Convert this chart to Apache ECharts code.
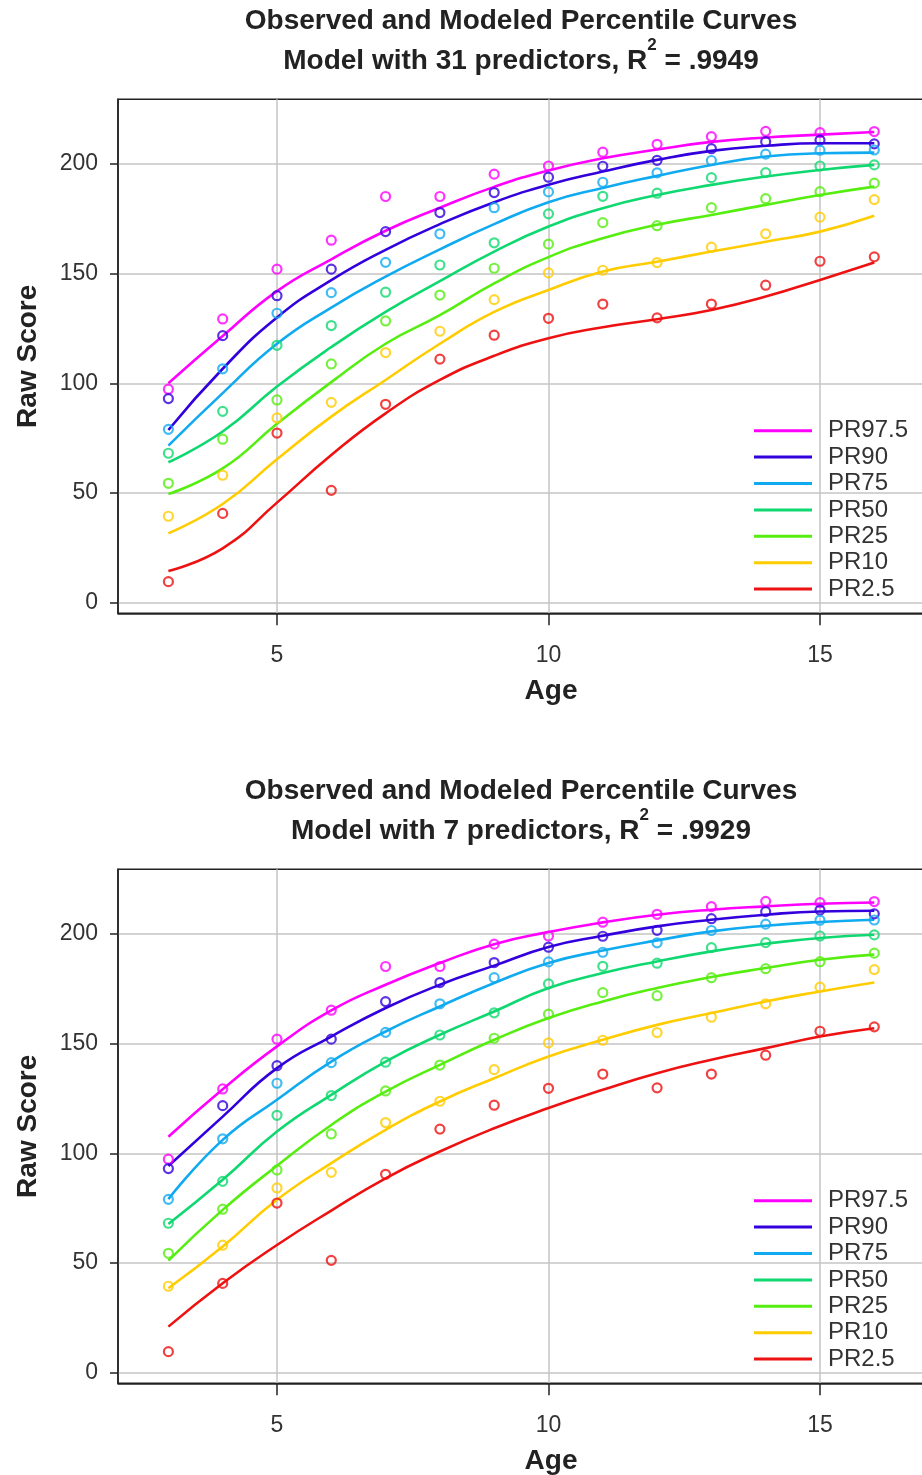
<!DOCTYPE html>
<html><head><meta charset="utf-8">
<script src="https://cdn.jsdelivr.net/npm/echarts@6/dist/echarts.min.js"></script>
<style>html,body{margin:0;padding:0;background:#fff}#c{width:922px;height:1475px}</style>
</head><body><div id="c"></div><script>
// ---- data ----
const ages = [3,4,5,6,7,8,9,10,11,12,13,14,15,16];
const names = ['PR97.5','PR90','PR75','PR50','PR25','PR10','PR2.5'];
const colors = ['#FF00FF','#3300DD','#10AAF0','#10D870','#55EE10','#FFCC00','#EE1111'];
const xTicks = [5,10,15];
const yTicks = [0,50,100,150,200];

// observed (same in both panels)
const obs975 = [97.3,129.3,152.0,165.2,185.1,185.1,195.3,199.0,205.3,208.9,212.4,214.8,214.2,214.7];
const obs90  = [93.0,121.7,139.9,152.0,169.1,177.8,186.9,193.9,198.9,201.6,206.9,210.1,210.8,209.1];
const obs75  = [79.0,106.6,131.9,141.3,155.1,168.1,180.0,187.2,191.6,195.9,201.5,204.4,206.2,206.3];
const obs50  = [68.1,87.2,117.3,126.3,141.5,153.9,164.0,177.2,185.2,186.6,193.7,196.0,199.0,199.5];
const obs25  = [54.4,74.5,92.4,108.8,128.4,140.2,152.4,163.4,173.2,171.8,180.0,184.1,187.3,191.2];
const obs10  = [39.4,58.1,84.2,91.3,114.0,123.7,138.1,150.3,151.5,155.0,162.0,168.1,175.7,183.7];
const obs2_5 = [9.6,40.7,77.3,51.2,90.4,111.0,121.9,129.6,136.1,129.8,136.1,144.7,155.6,157.6];

// model with 31 predictors
const m1_975 = [100.0,121.5,142.0,156.5,169.5,180.0,189.5,197.0,202.5,206.5,210.0,212.0,213.3,214.5];
const m1_90  = [78.7,106.6,130.0,147.0,160.8,172.5,182.5,190.5,196.5,201.8,205.9,208.2,209.4,209.4];
const m1_75  = [71.6,95.5,118.0,134.5,148.6,161.0,172.5,182.5,189.0,194.5,199.5,203.3,204.8,205.1];
const m1_50  = [64.0,78.0,98.5,116.5,132.5,146.5,160.0,171.4,179.8,185.8,190.4,194.2,197.2,199.5];
const m1_25  = [49.5,61.2,81.5,100.5,118.0,131.0,145.5,157.5,166.1,172.2,176.7,181.3,185.8,189.6];
const m1_10  = [31.6,45.0,65.4,84.8,101.5,118.0,132.5,142.5,150.9,155.4,160.0,164.5,169.1,176.3];
const m1_2_5 = [14.4,24.8,45.6,67.3,86.3,101.5,112.5,120.5,125.5,129.2,133.4,139.5,147.1,155.0];

// model with 7 predictors
const m2_975 = [107.5,129.2,148.7,165.1,176.8,186.7,195.3,200.8,205.2,208.7,211.0,212.5,213.7,214.3];
const m2_90  = [94.2,116.7,138.8,153.2,166.2,176.8,185.5,194.0,199.1,203.4,206.4,208.7,210.2,210.5];
const m2_75  = [79.1,106.1,124.4,141.8,155.5,166.9,177.6,186.7,192.4,197.0,201.1,203.7,205.4,206.4];
const m2_50  = [67.8,87.9,109.9,126.6,141.8,154.0,164.6,175.3,182.1,187.4,192.0,195.5,198.1,199.6];
const m2_25  = [51.1,74.2,94.3,112.9,128.1,140.3,151.7,161.6,169.2,175.3,180.3,184.4,188.2,190.5];
const m2_10  = [38.5,57.5,78.8,95.5,110.7,123.6,134.2,144.1,151.7,158.5,163.9,169.2,173.7,177.8];
const m2_2_5 = [21.0,40.8,58.2,73.9,88.6,100.8,111.4,120.6,128.9,136.5,142.6,147.9,153.2,157.0];

const observed = [obs975,obs90,obs75,obs50,obs25,obs10,obs2_5];
const models = [
  [m1_975,m1_90,m1_75,m1_50,m1_25,m1_10,m1_2_5],
  [m2_975,m2_90,m2_75,m2_50,m2_25,m2_10,m2_2_5]
];
const subTitles = [['Model with 31 predictors, R','2',' = .9949'],['Model with 7 predictors, R','2',' = .9929']];
const mainTitle = 'Observed and Modeled Percentile Curves';

// ---- layout ----
const F = '"Liberation Sans", Arial, Helvetica, sans-serif';
const PANEL_DY = 770;
const gridTop = 99.3, gridLeft = 118, gridW = 866, gridH = 514;
const xMin = 2.072, xMax = 2.072 + 866 / 54.3, yMin = -4.83, yMax = 229.4;

const grids = [], xAxes = [], yAxes = [], series = [], legends = [], graphics = [];
for (let p = 0; p < 2; p++) {
  const off = p * PANEL_DY;
  grids.push({left: gridLeft, top: gridTop + off, width: gridW, height: gridH,
    show: true, borderColor: '#222', borderWidth: 1.5, backgroundColor: 'transparent',
    outerBoundsMode: 'none', containLabel: false});
  xAxes.push({type: 'value', gridIndex: p, min: xMin, max: xMax,
    axisLine: {show: true, onZero: false, lineStyle: {color: '#222', width: 1.5}},
    axisTick: {show: true, length: 12, customValues: xTicks, lineStyle: {color: '#222', width: 1.5}},
    axisLabel: {customValues: xTicks, fontSize: 23, color: '#333', margin: 31, fontFamily: F},
    splitLine: {show: true, lineStyle: {color: '#C4C4C4', width: 1.5}},
    name: 'Age', nameLocation: 'middle', nameGap: 64,
    nameTextStyle: {fontSize: 28, fontWeight: 'bold', color: '#222', fontFamily: F}});
  yAxes.push({type: 'value', gridIndex: p, min: yMin, max: yMax,
    axisLine: {show: true, onZero: false, lineStyle: {color: '#222', width: 1.5}},
    axisTick: {show: true, length: 8, customValues: yTicks, lineStyle: {color: '#222', width: 1.5}},
    axisLabel: {customValues: yTicks, fontSize: 23, color: '#333', margin: 20, fontFamily: F},
    splitLine: {show: true, lineStyle: {color: '#C4C4C4', width: 1.5}},
    name: 'Raw Score', nameLocation: 'middle', nameGap: 76,
    nameTextStyle: {fontSize: 28, fontWeight: 'bold', color: '#222', fontFamily: F}});
  for (let k = 0; k < 7; k++) {
    series.push({type: 'line', name: names[k], xAxisIndex: p, yAxisIndex: p,
      data: ages.map((a, i) => [a, models[p][k][i]]),
      smooth: 0.5, showSymbol: false, symbol: 'none',
      color: colors[k], lineStyle: {color: colors[k], width: 2.6}, z: 2, silent: true});
  }
  for (let k = 0; k < 7; k++) {
    series.push({type: 'scatter', name: 'obs ' + names[k], xAxisIndex: p, yAxisIndex: p,
      data: ages.map((a, i) => [a, observed[k][i]]),
      symbol: 'circle', symbolSize: 9,
      itemStyle: {color: 'rgba(255,255,255,0)', borderColor: colors[k], borderWidth: 2.2}, z: 3, silent: true});
  }
  legends.push({orient: 'vertical', left: 754, top: 417.5 + off, padding: 0,
    itemWidth: 58, itemHeight: 3, itemGap: 0, icon: 'rect', selectedMode: false,
    textStyle: {fontSize: 24, color: '#333', lineHeight: 26.4, padding: [0, 0, 0, 11], fontFamily: F},
    data: names});
  graphics.push({type: 'text', x: 521, y: 21 + off,
    style: {text: mainTitle, fontSize: 28, fontWeight: 'bold', fontFamily: F, fill: '#222',
      align: 'center', verticalAlign: 'middle'}});
  graphics.push({type: 'text', x: 521, y: 61 + off,
    style: {text: '{t|' + subTitles[p][0] + '}{s|' + subTitles[p][1] + '}{t|' + subTitles[p][2] + '}',
      fill: '#222', align: 'center', verticalAlign: 'middle',
      rich: {
        t: {fontSize: 28, fontWeight: 'bold', fontFamily: F, fill: '#222', lineHeight: 34},
        s: {fontSize: 17, fontWeight: 'bold', fontFamily: F, fill: '#222', lineHeight: 17, padding: [0, 0, 32, 0]}
      }}});
}

const chart = echarts.init(document.getElementById('c'), null, {renderer: 'canvas'});
chart.setOption({
  animation: false,
  backgroundColor: '#fff',
  grid: grids, xAxis: xAxes, yAxis: yAxes, legend: legends,
  series: series, graphic: graphics
});
</script></body></html>
